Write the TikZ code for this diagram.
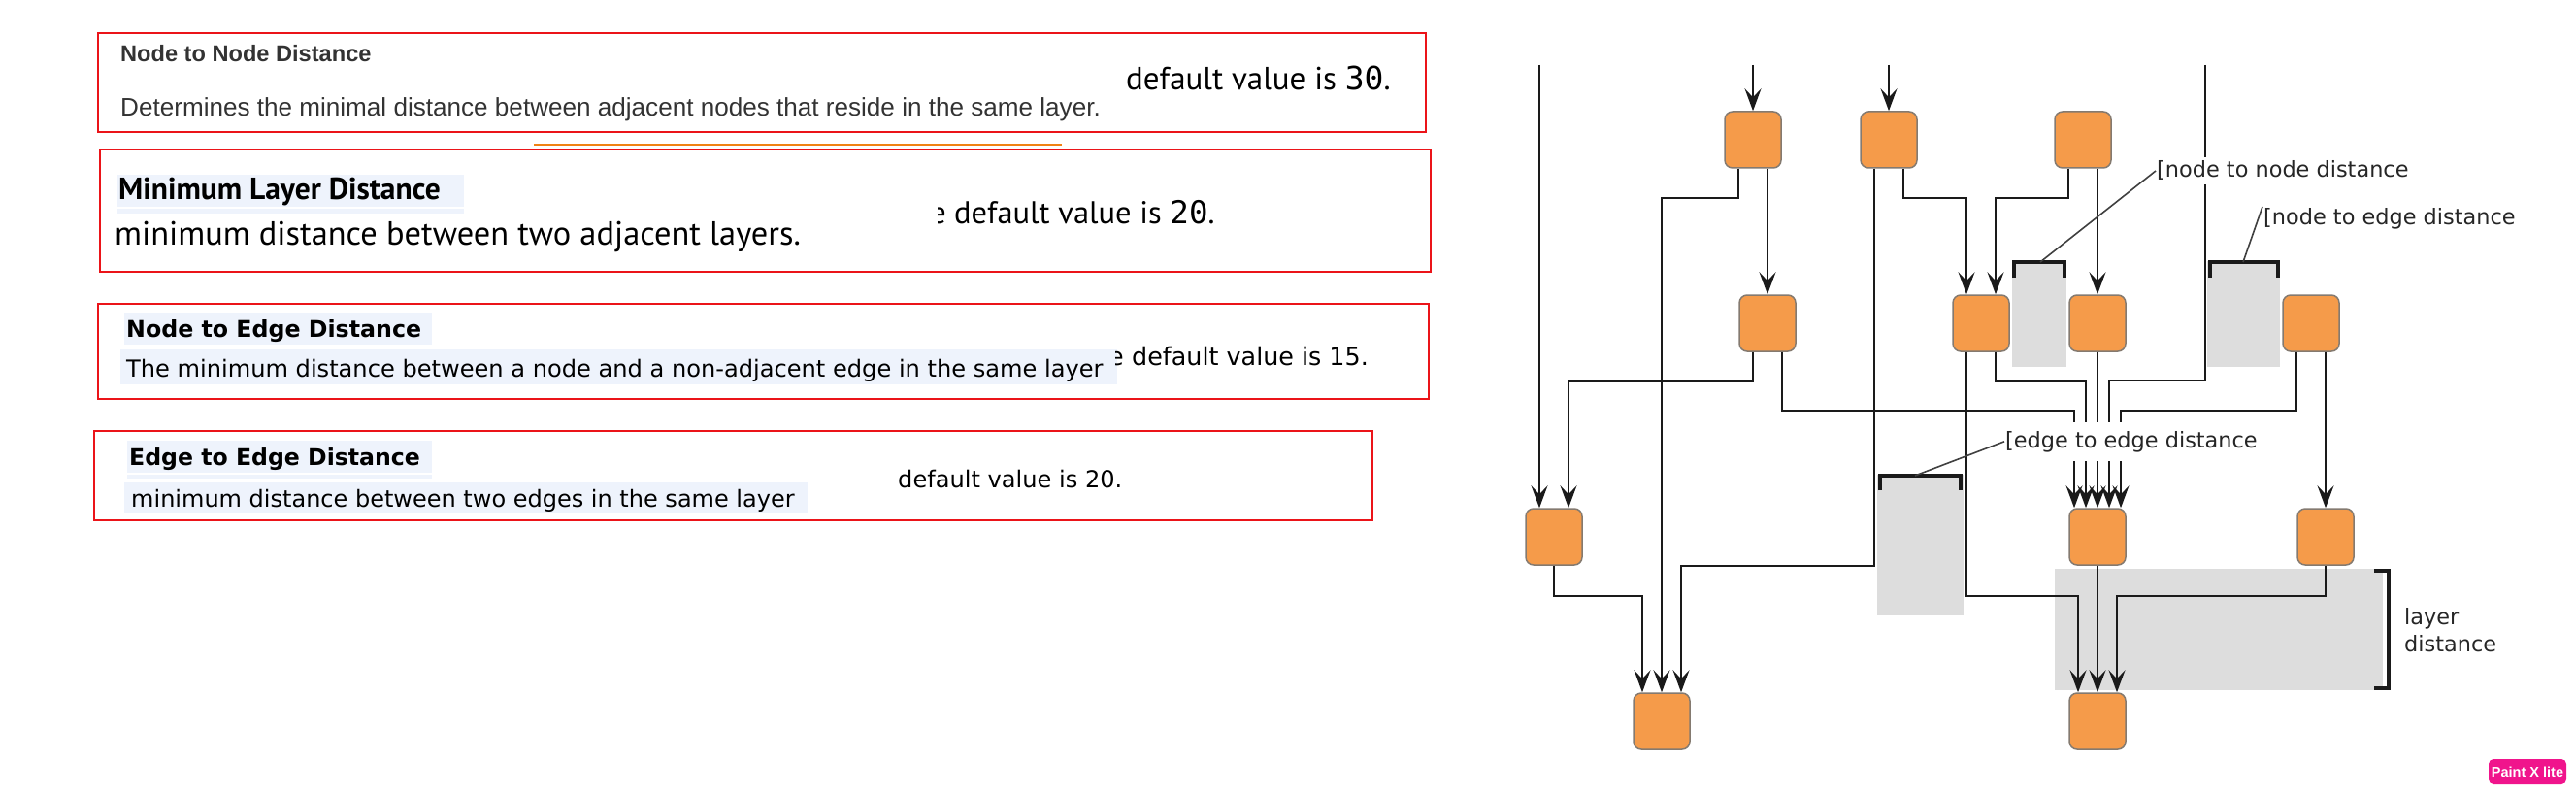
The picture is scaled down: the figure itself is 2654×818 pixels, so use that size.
\documentclass[tikz,border=0pt]{standalone}
\usepackage{fontspec}
\setmainfont{Liberation Sans}
\newfontfamily\ptsans{PT Sans}
\newfontfamily\dejavu{DejaVu Sans}
\newfontfamily\dejavumono{DejaVu Sans Mono}
\usetikzlibrary{arrows.meta, positioning, calc}

\definecolor{boxred}{RGB}{235,20,25}
\definecolor{nodeorange}{RGB}{245,155,74}
\definecolor{nodeedge}{RGB}{132,122,112}
\definecolor{shade}{RGB}{221,221,221}
\definecolor{hilite}{RGB}{238,243,252}
\definecolor{rulecol}{RGB}{240,130,20}
\definecolor{ink}{RGB}{26,26,26}
\definecolor{paintpink}{RGB}{240,20,140}

\begin{document}
\begin{tikzpicture}[
  x=1pt, y=-1pt,
  vertex/.style={rectangle, draw=nodeedge, line width=1.5pt, fill=nodeorange, rounded corners=8pt, minimum width=58pt, minimum height=58pt, inner sep=0pt},
  arr/.style={-{Stealth[length=23pt, width=17pt, inset=9pt]}, line width=2pt, draw=ink},
  frame/.style={draw=boxred, line width=2.5pt},
  hl/.style={fill=hilite},
  gap/.style={fill=shade},
  bracket/.style={draw=ink, line width=3.5pt},
  leader/.style={draw=black!75, line width=1.6pt},
  tag/.style={fill=white, inner xsep=1pt, inner ysep=4pt, font=\dejavu\fontsize{22.4}{28}\selectfont, text=black!85},
  txt/.style={inner sep=0pt, anchor=base west},
]
\useasboundingbox (0,0) rectangle (2654,818);

% Box 1: node to node distance
\draw[frame] (101,34) rectangle (1469,136);
\node[txt, font=\bfseries\fontsize{23.6}{28}\selectfont, text=black!80] (nntitle) at (124,64) {Node to Node Distance};
\node[txt, font=\fontsize{26.1}{30}\selectfont, text=black!80] (nnbody) at (124,120) {Determines the minimal distance between adjacent nodes that reside in the same layer.};
\node[txt, font=\ptsans\fontsize{33}{38}\selectfont] (nnvalue) at (1160,93) {default value is {\dejavumono 30}.};
\draw[draw=rulecol, line width=2pt] (550,149) -- (1094,149);

% Box 2: minimum layer distance
\draw[frame] (103,154) rectangle (1474,280);
\fill[hl] (121,180) rectangle (478,213);
\fill[hl] (121,215) rectangle (478,220);
\node[txt, font=\ptsans\bfseries\fontsize{31.5}{36}\selectfont] (mltitle) at (122,206) {Minimum Layer Distance};
\node[txt, font=\ptsans\fontsize{34.4}{40}\selectfont] (mlbody) at (118,253) {minimum distance between two adjacent layers.};
\begin{scope}
  \clip (966,200) rectangle (976,240);
  \node[anchor=base east, inner sep=0pt, font=\ptsans\fontsize{32.5}{38}\selectfont] (mlcut) at (975,231) {e};
\end{scope}
\node[txt, font=\ptsans\fontsize{32.5}{38}\selectfont] (mlvalue) at (983,231) {default value is {\dejavumono 20}.};

% Box 3: node to edge distance
\draw[frame] (101,313) rectangle (1472,411);
\fill[hl] (128,322) rectangle (445,355);
\fill[hl] (124,360) rectangle (1151,396);
\node[txt, font=\dejavu\bfseries\fontsize{23.7}{28}\selectfont] (netitle) at (130,347) {Node to Edge Distance};
\node[txt, font=\dejavu\fontsize{24.1}{28}\selectfont] (nebody) at (130,388) {The minimum distance between a node and a non-adjacent edge in the same layer};
\begin{scope}
  \clip (1149,350) rectangle (1159,385);
  \node[anchor=base east, inner sep=0pt, font=\dejavu\fontsize{25.4}{30}\selectfont] (necut) at (1158,376.7) {e};
\end{scope}
\node[txt, font=\dejavu\fontsize{25.4}{30}\selectfont] (nevalue) at (1166,376.7) {default value is 15.};

% Box 4: edge to edge distance
\draw[frame] (97,444) rectangle (1414,536);
\fill[hl] (131,454) rectangle (445,487);
\fill[hl] (131,489) rectangle (445,493);
\fill[hl] (128,497) rectangle (832,529);
\node[txt, font=\dejavu\bfseries\fontsize{23.6}{28}\selectfont] (eetitle) at (133,479) {Edge to Edge Distance};
\node[txt, font=\dejavu\fontsize{24}{28}\selectfont] (eebody) at (135,522.7) {minimum distance between two edges in the same layer};
\node[txt, font=\dejavu\fontsize{24.1}{28}\selectfont] (eevalue) at (925,502.7) {default value is 20.};

% Shaded gaps
\fill[gap] (2073,269) rectangle (2129,378);
\fill[gap] (2274,269) rectangle (2349,378);
\fill[gap] (1934,489) rectangle (2023,634);
\fill[gap] (2117,586) rectangle (2455,711);

% Layer 1
\node[vertex] (n11) at (1806,144) {};
\node[vertex] (n12) at (1946,144) {};
\node[vertex] (n13) at (2146,144) {};

% Layer 2
\node[vertex] (n21) at (1821,333) {};
\node[vertex] (n22) at (2041,333) {};
\node[vertex] (n23) at (2161,333) {};
\node[vertex] (n24) at (2381,333) {};

% Layer 3
\node[vertex] (n31) at (1601,553) {};
\node[vertex] (n32) at (2161,553) {};
\node[vertex] (n33) at (2396,553) {};

% Layer 4
\node[vertex] (n41) at (1712,743) {};
\node[vertex] (n42) at (2161,743) {};

% Loose ends at the top
\coordinate (topk) at (1586,67);
\coordinate (topa) at (1806,67);
\coordinate (topb) at (1946,67);
\coordinate (topf) at (2271.7,67);

% Edges
\draw[arr] (topk) -- ([xshift=-15pt]n31.north);
\draw[arr] (topa) -- (n11.north);
\draw[arr] (topb) -- (n12.north);
\draw[arr] (topf) -- ++(0,325) -| ([xshift=12pt]n32.north);
\draw[arr] ([xshift=-15pt]n11.south) -- ++(0,30) -| (n41.north);
\draw[arr] ([xshift=15pt]n11.south) -- (n21.north);
\draw[arr] ([xshift=-15pt]n12.south) -- ++(0,409) -| ([xshift=20pt]n41.north);
\draw[arr] ([xshift=15pt]n12.south) -- ++(0,30) -| ([xshift=-15pt]n22.north);
\draw[arr] ([xshift=-15pt]n13.south) -- ++(0,30) -| ([xshift=15pt]n22.north);
\draw[arr] ([xshift=15pt]n13.south) -- (n23.north);
\draw[arr] ([xshift=-15pt]n21.south) -- ++(0,30) -| ([xshift=15pt]n31.north);
\draw[arr] ([xshift=15pt]n21.south) -- ++(0,60) -| ([xshift=-24pt]n32.north);
\draw[arr] ([xshift=-15pt]n22.south) -- ++(0,251) -| ([xshift=-20pt]n42.north);
\draw[arr] ([xshift=15pt]n22.south) -- ++(0,30) -| ([xshift=-12pt]n32.north);
\draw[arr] (n23.south) -- (n32.north);
\draw[arr] ([xshift=-15pt]n24.south) -- ++(0,60) -| ([xshift=24pt]n32.north);
\draw[arr] ([xshift=15pt]n24.south) -- (n33.north);
\draw[arr] (n31.south) -- ++(0,31) -| ([xshift=-20pt]n41.north);
\draw[arr] (n32.south) -- (n42.north);
\draw[arr] (n33.south) -- ++(0,31) -| ([xshift=20pt]n42.north);

% Labels
\node[tag, anchor=base west] (nnlabel) at (2221,183) {[node to node distance};
\node[tag, anchor=base west, inner ysep=2pt] (nelabel) at (2331,232) {[node to edge distance};
\node[tag, anchor=base west, inner ysep=9pt] (eelabel) at (2065,461) {[edge to edge distance};
\node[tag, fill=none, anchor=west, align=left] (ldlabel) at (2476,649) {layer\\distance};

% Brackets and leaders
\draw[bracket] (2075,286) -- (2075,270) -- (2127,270) -- (2127,286);
\draw[bracket] (2277,286) -- (2277,270) -- (2347,270) -- (2347,286);
\draw[bracket] (1937,505) -- (1937,490) -- (2020,490) -- (2020,505);
\draw[bracket] (2446,588) -- (2461,588) -- (2461,709) -- (2446,709);
\coordinate (nnmid) at (2102,270);
\coordinate (nemid) at (2311,270);
\coordinate (eemid) at (1973,490);
\draw[leader] (nnmid) -- (nnlabel.west);
\draw[leader] (nemid) -- (nelabel.north west);
\draw[leader] (eemid) -- (eelabel.west);

\node[fill=paintpink, rounded corners=5pt, minimum width=80pt, minimum height=26pt, inner sep=0pt, text=white, font=\bfseries\fontsize{14.5}{16}\selectfont] (badge) at (2604,795) {Paint X lite};

\end{tikzpicture}
\end{document}
